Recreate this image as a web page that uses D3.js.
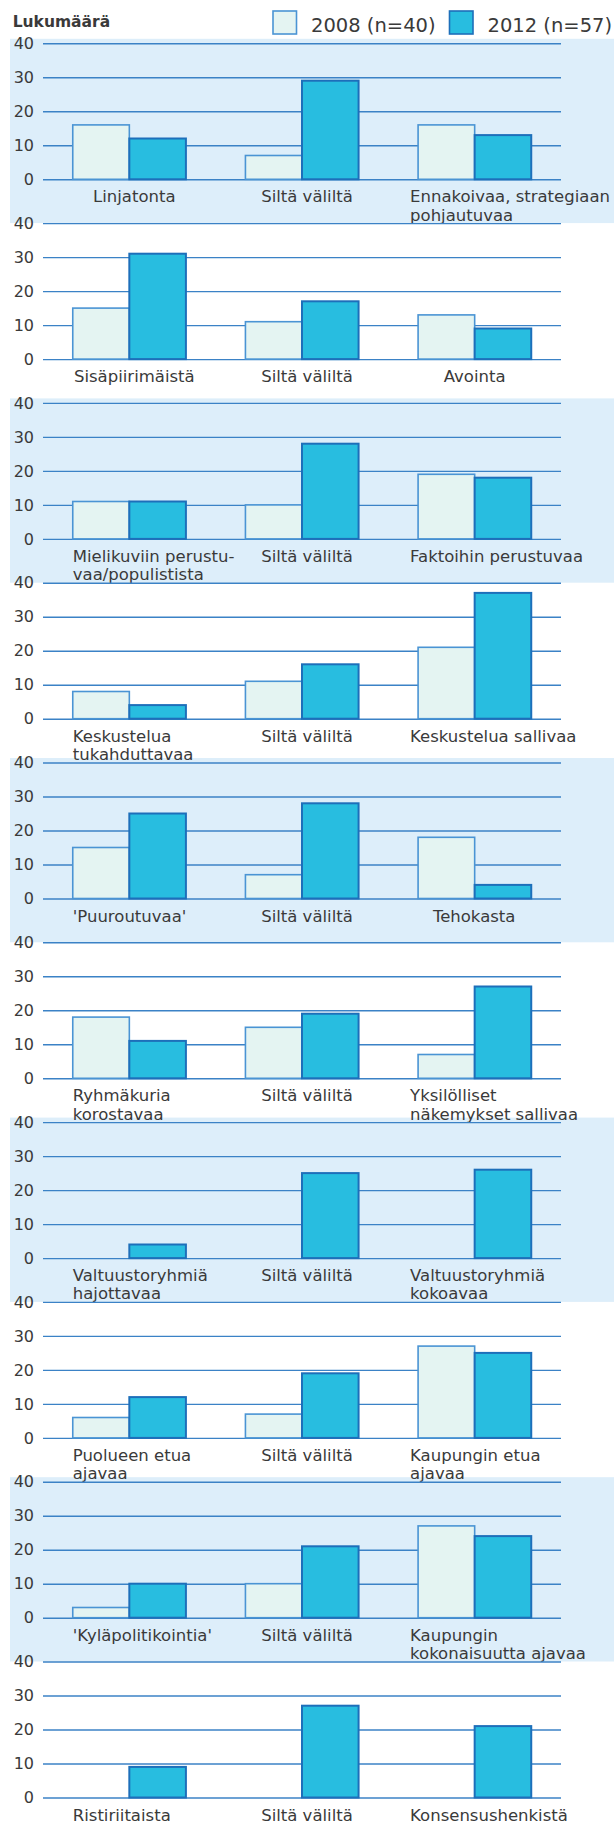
<!DOCTYPE html>
<html>
<head>
<meta charset="utf-8">
<script src="https://cdn.jsdelivr.net/npm/d3@7"></script>
<style>
  body { margin: 0; background: #fff; }
  text { font-family: "DejaVu Sans", sans-serif; fill: #3a3a3a; }
</style>
</head>
<body>
<script>
// data, one entry per panel
var series = ["2008 (n=40)", "2012 (n=57)"];
var ticks = [0, 10, 20, 30, 40];

var categories = [
  ["Linjatonta", "Siltä väliltä", "Ennakoivaa, strategiaan\npohjautuvaa"],
  ["Sisäpiirimäistä", "Siltä väliltä", "Avointa"],
  ["Mielikuviin perustu-\nvaa/populistista", "Siltä väliltä", "Faktoihin perustuvaa"],
  ["Keskustelua\ntukahduttavaa", "Siltä väliltä", "Keskustelua sallivaa"],
  ["'Puuroutuvaa'", "Siltä väliltä", "Tehokasta"],
  ["Ryhmäkuria\nkorostavaa", "Siltä väliltä", "Yksilölliset\nnäkemykset sallivaa"],
  ["Valtuustoryhmiä\nhajottavaa", "Siltä väliltä", "Valtuustoryhmiä\nkokoavaa"],
  ["Puolueen etua\najavaa", "Siltä väliltä", "Kaupungin etua\najavaa"],
  ["'Kyläpolitikointia'", "Siltä väliltä", "Kaupungin\nkokonaisuutta ajavaa"],
  ["Ristiriitaista", "Siltä väliltä", "Konsensushenkistä"]
];
var values2008 = [
  [16, 7, 16], [15, 11, 13], [11, 10, 19], [8, 11, 21], [15, 7, 18],
  [18, 15, 7], [0, 0, 0], [6, 7, 27], [3, 10, 27], [0, 0, 0]
];
var values2012 = [
  [12, 29, 13], [31, 17, 9], [11, 28, 18], [4, 16, 37], [25, 28, 4],
  [11, 19, 27], [4, 25, 26], [12, 19, 25], [10, 21, 24], [9, 27, 21]
];

// layout
var W = 614, H = 1823;
var left = 43, right = 561;
var top0 = 43.3, step = 179.8, ph = 136;
var fills = ["#e4f4f2", "#28bde0"];
var strokes = ["#4a94d4", "#1d6fba"];
var centred = ["Linjatonta", "Sisäpiirimäistä", "Siltä väliltä", "Avointa", "Tehokasta"];

var svg = d3.select("body").append("svg")
    .attr("width", W)
    .attr("height", H);

var y = d3.scaleLinear().domain([0, 40]).range([ph, 0]);

// background bands behind every other panel
svg.selectAll(".band")
    .data(d3.range(0, categories.length, 2))
  .enter().append("rect")
    .attr("class", "band")
    .attr("x", 10)
    .attr("y", function(i) { return top0 + i * step - 4.5; })
    .attr("width", W - 10)
    .attr("height", step + 4.5)
    .attr("fill", "#ddeefa");

categories.forEach(function(cats, p) {
  var g = svg.append("g")
      .attr("transform", "translate(0," + (top0 + p * step) + ")");

  var x0 = d3.scaleBand().domain(cats).range([left, right]);
  var x1 = d3.scaleBand().domain(series).range([0, x0.bandwidth()])
      .paddingInner(0).paddingOuter(0.526);

  var axis = g.append("g")
      .attr("transform", "translate(" + left + ",0)")
      .call(d3.axisLeft(y).tickValues(ticks).tickSize(-(right - left)).tickPadding(9));
  axis.select(".domain").remove();
  axis.selectAll(".tick line").attr("stroke", "#3b82c6").attr("stroke-width", 1.4);
  axis.selectAll(".tick text")
      .attr("font-size", "16px")
      .attr("fill", "#3a3a3a")
      .style("font-family", "DejaVu Sans, sans-serif");

  var rows = cats.map(function(c, i) {
    return [values2008[p][i], values2012[p][i]];
  });

  var grp = g.selectAll(".grp")
      .data(cats)
    .enter().append("g")
      .attr("class", "grp")
      .attr("transform", function(c) { return "translate(" + x0(c) + ",0)"; });

  grp.selectAll("rect")
      .data(function(c, i) {
        return series.map(function(s, k) { return {s: s, k: k, v: rows[i][k]}; });
      })
    .enter().append("rect")
      .attr("x", function(d) { return x1(d.s); })
      .attr("y", function(d) { return y(d.v); })
      .attr("width", x1.bandwidth())
      .attr("height", function(d) { return ph - y(d.v); })
      .attr("fill", function(d) { return fills[d.k]; })
      .attr("stroke", function(d) { return strokes[d.k]; })
      .attr("stroke-width", function(d) { return d.k ? 2 : 1.6; });

  // category labels
  cats.forEach(function(c, i) {
    var lines = c.split("\n");
    var t = g.append("text")
        .attr("font-size", "16.5px")
        .attr("y", ph + 23);
    lines.forEach(function(l, j) {
      t.append("tspan").attr("x", 0).attr("dy", j ? 18.3 : 0).text(l);
    });
    var w = t.node().getBBox().width;
    var bx;
    if (centred.indexOf(c) >= 0) {
      bx = x0(c) + x0.bandwidth() / 2 + (i < 2 ? 5 : 0) - w / 2;
    } else {
      bx = x0(c) + x1(series[0]) - (i === 2 ? 8 : 0);
      if (bx + w > W - 1) bx = W - 1 - w;
    }
    t.selectAll("tspan").attr("x", bx);
  });
});

// title and legend
svg.append("text")
    .attr("x", 12.7)
    .attr("y", 26.7)
    .attr("font-size", "15.5px")
    .attr("font-weight", "bold")
    .attr("fill", "#222")
    .text("Lukumäärä");

var legend = svg.selectAll(".legend")
    .data(series)
  .enter().append("g")
    .attr("class", "legend")
    .attr("transform", function(d, i) { return "translate(" + (273 + i * 176.5) + ",11)"; });

legend.append("rect")
    .attr("width", 23.5)
    .attr("height", 23)
    .attr("fill", function(d, i) { return fills[i]; })
    .attr("stroke", function(d, i) { return strokes[i]; })
    .attr("stroke-width", 1.6);

legend.append("text")
    .attr("x", 38)
    .attr("y", 20.7)
    .attr("font-size", "19.5px")
    .text(function(d) { return d; });
</script>
</body>
</html>
